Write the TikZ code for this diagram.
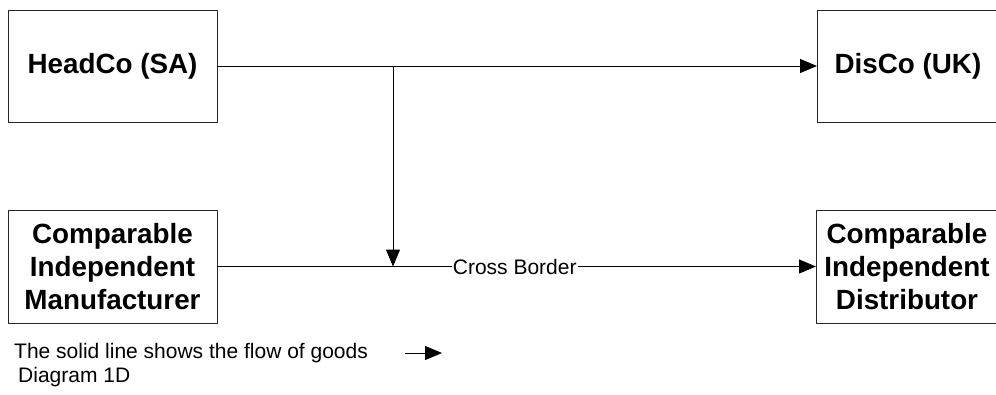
\documentclass[tikz,border=0pt]{standalone}
\usepackage{fontspec}
\setmainfont{Liberation Sans}
\usetikzlibrary{arrows.meta}
\begin{document}
\begin{tikzpicture}[x=1pt,y=-1pt,
  box/.style={draw=black!85,line width=0.9pt,inner sep=0pt,outer sep=0pt,align=center,
    font=\fontsize{27.8}{33}\selectfont\bfseries,text=black},
  flow/.style={draw=black,line width=1pt,-{Triangle[length=17pt,width=14pt]}},
  plain/.style={font=\fontsize{21}{25}\selectfont,inner sep=0pt}]
\useasboundingbox (0,0) rectangle (996,394);
\node[box,minimum width=209pt,minimum height=112pt] (head) at (112.5,66) {HeadCo (SA)};
\node[box,minimum width=182pt,minimum height=112pt] (disco) at (908,66) {DisCo (UK)};
\node[box,minimum width=209pt,minimum height=113pt] (manu) at (112.5,266.5) {Comparable\\Independent\\Manufacturer};
\node[box,minimum width=182pt,minimum height=113pt] (dist) at (907,266.5) {Comparable\\Independent\\Distributor};
\coordinate (j) at (393,66);
\coordinate (k) at (393,266.5);
\draw[flow] (head.east) -- (disco.west);
\draw[flow] (j) -- (k);
\draw[flow] (manu.east) -- node[plain,fill=white,inner xsep=1pt,pos=0.497] (cb) {Cross Border} (dist.west);
\node[plain,anchor=west] (legend) at (14,353) {The solid line shows the flow of goods};
\coordinate (la) at (405,353);
\coordinate (lb) at (442,353);
\draw[flow] (la) -- (lb);
\node[plain,anchor=west] (diag) at (18,377) {Diagram 1D};
\end{tikzpicture}
\end{document}
